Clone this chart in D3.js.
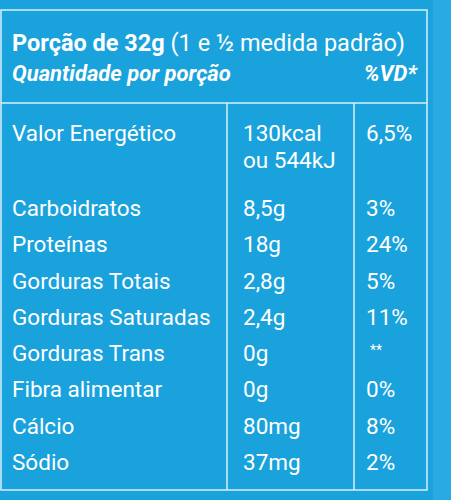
<!DOCTYPE html>
<html><head><meta charset="utf-8">
<script src="https://cdn.jsdelivr.net/npm/d3@7"></script>
<style>body{margin:0;background:#1aa2dc}</style>
</head><body>
<script>
// nutrients, amounts, daily values
var nutrients = ["Carboidratos","Proteínas","Gorduras Totais","Gorduras Saturadas","Gorduras Trans","Fibra alimentar","Cálcio","Sódio"];
var amounts = ["8,5g","18g","2,8g","2,4g","0g","0g","80mg","37mg"];
var dailyValues = ["3%","24%","5%","11%","**","0%","8%","2%"];
var energy = ["Valor Energético","130kcal","ou 544kJ","6,5%"];

var svg = d3.select("body").append("svg").attr("width",451).attr("height",500);
svg.append("rect").attr("width",451).attr("height",500).attr("fill","#1aa2dc");
svg.append("rect").attr("x",433).attr("width",18).attr("height",500).attr("fill","#2aaae2");

var line = "#d8f0fb", font = "Roboto, sans-serif";
var cols = [0,227,354,427];
svg.append("rect").attr("x",1).attr("y",10).attr("width",426).attr("height",480)
   .attr("fill","none").attr("stroke",line).attr("stroke-width",1.5);
svg.append("line").attr("x1",1).attr("x2",427).attr("y1",103).attr("y2",103).attr("stroke",line).attr("stroke-width",1.5);
[cols[1],cols[2]].forEach(function(x){
  svg.append("line").attr("x1",x).attr("x2",x).attr("y1",103).attr("y2",490).attr("stroke",line).attr("stroke-width",1.5);
});

svg.append("text").attr("x",12).attr("y",51).attr("fill","white").attr("font-family",font).attr("font-size",23.5)
  .html('<tspan font-weight="bold">Porção de 32g</tspan> (1 e ½ medida padrão)');
svg.append("text").attr("x",12).attr("y",81).attr("fill","white").attr("font-family",font).attr("font-size",22)
  .attr("font-weight","bold").attr("font-style","italic").text("Quantidade por porção");
svg.append("text").attr("x",417).attr("y",81).attr("fill","white").attr("font-family",font).attr("font-size",22)
  .attr("font-weight","bold").attr("font-style","italic").attr("text-anchor","end").text("%VD*");

var t = {fill:"white","font-family":font,"font-size":22.5};
function txt(x,y,s,size){var e=svg.append("text").attr("x",x).attr("y",y).text(s);for(var k in t)e.attr(k,t[k]);if(size)e.attr("font-size",size);return e;}
txt(12,141,energy[0]); txt(243,141,energy[1]); txt(243,168,energy[2]); txt(366,141,energy[3]);

var y = d3.scaleBand().domain(nutrients).range([187,477]);
nutrients.forEach(function(n,i){
  var yy = y(n)+y.bandwidth()*0.8;
  txt(12,yy,n); txt(243,yy,amounts[i]);
  if(dailyValues[i]=="**") txt(370,yy-6,dailyValues[i],14); else txt(366,yy,dailyValues[i]);
});
</script>
</body></html>
